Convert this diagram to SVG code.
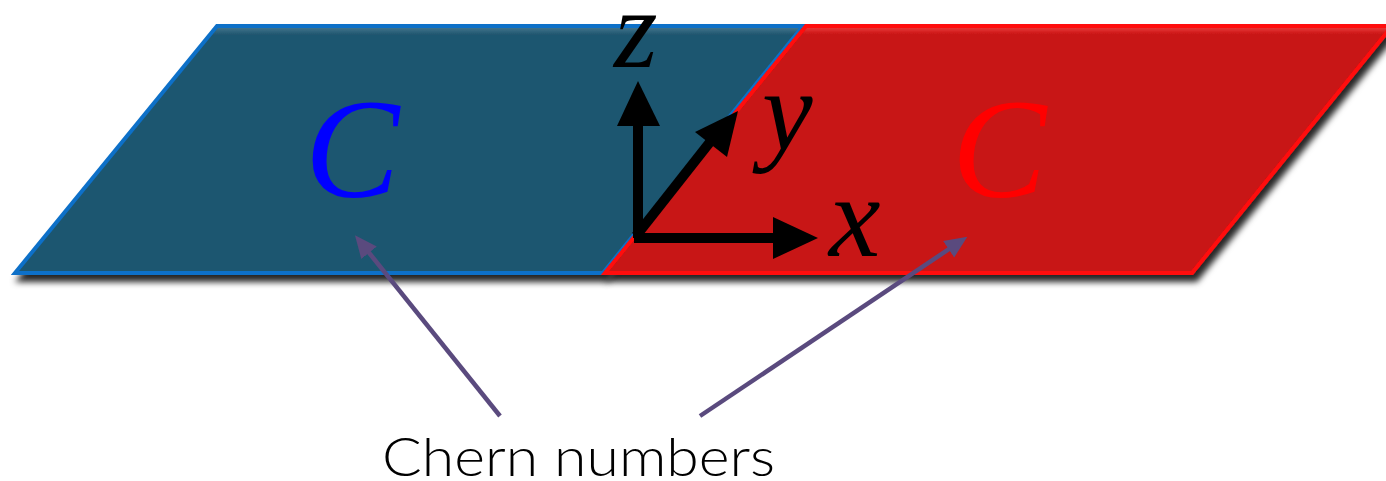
<svg xmlns="http://www.w3.org/2000/svg" width="1386" height="481" viewBox="0 0 1386 481">
<style>
.math{font-family:"Liberation Serif","DejaVu Serif",serif;font-style:italic;}
.axis{stroke:#000;stroke-width:10;fill:none;}
.head{fill:#000;}
.ptr{stroke:#5A4A7E;stroke-width:4.5;fill:none;marker-end:url(#ph);}
</style>
<defs>
<filter id="sh" x="-5%" y="-10%" width="115%" height="135%">
<feDropShadow dx="4" dy="7" stdDeviation="3" flood-color="#000" flood-opacity="0.85"/>
</filter>
<linearGradient id="gb" x1="0" y1="26" x2="0" y2="273" gradientUnits="userSpaceOnUse">
<stop offset="0" stop-color="#4A7A92"/>
<stop offset="0.035" stop-color="#1F566F"/>
<stop offset="1" stop-color="#1F566F"/>
</linearGradient>
<linearGradient id="gr" x1="0" y1="26" x2="0" y2="273" gradientUnits="userSpaceOnUse">
<stop offset="0" stop-color="#F04040"/>
<stop offset="0.035" stop-color="#C81414"/>
<stop offset="1" stop-color="#C81414"/>
</linearGradient>
<marker id="ph" markerWidth="5" markerHeight="5" refX="2.5" refY="2.5" orient="auto" markerUnits="strokeWidth">
<path d="M0,0.3 L5,2.5 L0,4.7 Z" fill="#5A4A7E"/>
</marker>
</defs>
<g id="blue-plane" filter="url(#sh)">
<path d="M217,26 L803,26 L603,273 L15,273 Z" fill="url(#gb)" stroke="#0A6FC8" stroke-width="4" stroke-linejoin="miter"/>
</g>
<g id="red-plane" filter="url(#sh)">
<path d="M806,26 L1392,26 L1192,273 L605,273 Z" fill="url(#gr)" stroke="#FF0A0A" stroke-width="4" stroke-linejoin="miter"/>
</g>
<g id="blue-c"><text class="math" x="352" y="197" font-size="142" fill="#0000FF" text-anchor="middle">C</text></g>
<g id="red-c"><text class="math" x="999" y="197" font-size="142" fill="#FF0000" text-anchor="middle">C</text></g>
<g id="axes">
<line class="axis" x1="638" y1="238" x2="638" y2="120"/>
<polygon class="head" points="638,81 617,126 660,126"/>
<line class="axis" x1="634" y1="238" x2="778" y2="238"/>
<polygon class="head" points="818,238 773,217 773,259"/>
<line class="axis" x1="636" y1="236" x2="714" y2="137"/>
<polygon class="head" points="738,111 695,132 727,157"/>
</g>
<g id="axis-labels">
<text class="math" x="614" y="67" font-size="112">z</text>
<text class="math" x="762" y="150" font-size="114">y</text>
<text class="math" x="829" y="256" font-size="116">x</text>
</g>
<g id="connectors">
<line class="ptr" x1="500" y1="416" x2="362" y2="244"/>
<line class="ptr" x1="700" y1="416" x2="958" y2="243"/>
</g>
<g id="label"><text x="382" y="476" font-family="Lato,'Open Sans',sans-serif" font-weight="300" font-size="54" textLength="393" lengthAdjust="spacingAndGlyphs" fill="#000">Chern numbers</text></g>
</svg>
